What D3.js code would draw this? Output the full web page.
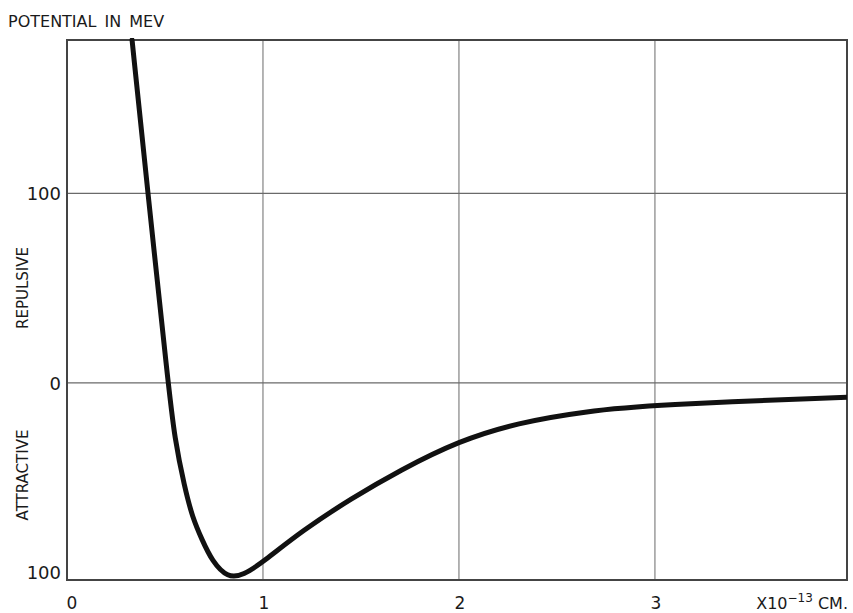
<!DOCTYPE html>
<html>
<head>
<meta charset="utf-8">
<script src="https://cdn.jsdelivr.net/npm/d3@7"></script>
<style>
  body { margin: 0; background: #fff; }
  text { font-family: "DejaVu Sans", sans-serif; fill: #1a1a1a; }
</style>
</head>
<body>
<svg id="chart" width="853" height="613"></svg>
<script>
// distance in 10^-13 cm, potential in MeV
let distance = [0.332, 0.414, 0.516, 0.55, 0.60, 0.64, 0.69, 0.74, 0.82, 0.9, 1.0, 1.2, 1.45, 1.7, 2.0, 2.3, 2.64, 3.0, 3.98]
let potential = [181, 99, 0, -30, -55, -71, -83, -94, -103, -101.5, -94.5, -78, -61, -46, -30.5, -21, -15, -11.5, -7.5]

let xTicks = [0, 1, 2, 3]
let yTicks = [100, 0, -100]
let yTickLabels = ["100", "0", "100"]

let svg = d3.select("#chart")

let plotLeft = 67, plotRight = 847, plotTop = 40, plotBottom = 580

let xScale = d3.scaleLinear().domain([0, 3.98]).range([plotLeft, plotRight])
let yScale = d3.scaleLinear().domain([-104, 181]).range([plotBottom, plotTop])

// grid
svg.append("g").selectAll("line")
    .data(xTicks.filter(d => d > 0))
    .join("line")
    .attr("x1", d => xScale(d)).attr("x2", d => xScale(d))
    .attr("y1", plotTop).attr("y2", plotBottom)
    .attr("stroke", "#6a6a6a").attr("stroke-width", 1)

svg.append("g").selectAll("line")
    .data([100, 0])
    .join("line")
    .attr("x1", plotLeft).attr("x2", plotRight)
    .attr("y1", d => yScale(d)).attr("y2", d => yScale(d))
    .attr("stroke", "#6a6a6a").attr("stroke-width", 1.2)

// frame
svg.append("rect")
    .attr("x", plotLeft).attr("y", plotTop)
    .attr("width", plotRight - plotLeft).attr("height", plotBottom - plotTop)
    .attr("fill", "none").attr("stroke", "#444").attr("stroke-width", 2)

// curve
let points = distance.map((d, i) => [d, potential[i]])
let line = d3.line()
    .x(d => xScale(d[0]))
    .y(d => yScale(d[1]))
    .curve(d3.curveBasis)

svg.append("defs").append("clipPath").attr("id", "clip")
    .append("rect").attr("x", plotLeft).attr("y", plotTop - 2)
    .attr("width", plotRight - plotLeft).attr("height", plotBottom - plotTop + 2)

svg.append("path")
    .datum(points)
    .attr("clip-path", "url(#clip)")
    .attr("d", line)
    .attr("fill", "none")
    .attr("stroke", "#111")
    .attr("stroke-width", 5)
    .attr("stroke-linecap", "round")

// tick labels
svg.append("g").selectAll("text")
    .data(xTicks)
    .join("text")
    .attr("x", d => xScale(d) + (d == 0 ? 5 : 1))
    .attr("y", 609)
    .attr("text-anchor", "middle")
    .style("font-size", "17px")
    .text(d => d)

svg.append("g").selectAll("text")
    .data(yTicks)
    .join("text")
    .attr("x", plotLeft - 6)
    .attr("y", d => yScale(d) + 7)
    .attr("text-anchor", "end")
    .style("font-size", "18px")
    .text((d, i) => yTickLabels[i])

svg.append("text")
    .attr("x", 848).attr("y", 609)
    .attr("text-anchor", "end")
    .style("font-size", "16px")
    .html('X10<tspan dy="-7" font-size="12">−13</tspan><tspan dy="7"> CM.</tspan>')

svg.append("text")
    .attr("x", 8).attr("y", 27)
    .style("font-size", "16px")
    .style("word-spacing", "3px")
    .text("POTENTIAL IN MEV")

svg.append("text")
    .attr("transform", "translate(28, 288) rotate(-90)")
    .attr("text-anchor", "middle")
    .style("font-size", "15px")
    .text("REPULSIVE")

svg.append("text")
    .attr("transform", "translate(28, 475) rotate(-90)")
    .attr("text-anchor", "middle")
    .style("font-size", "15px")
    .text("ATTRACTIVE")
</script>
</body>
</html>
